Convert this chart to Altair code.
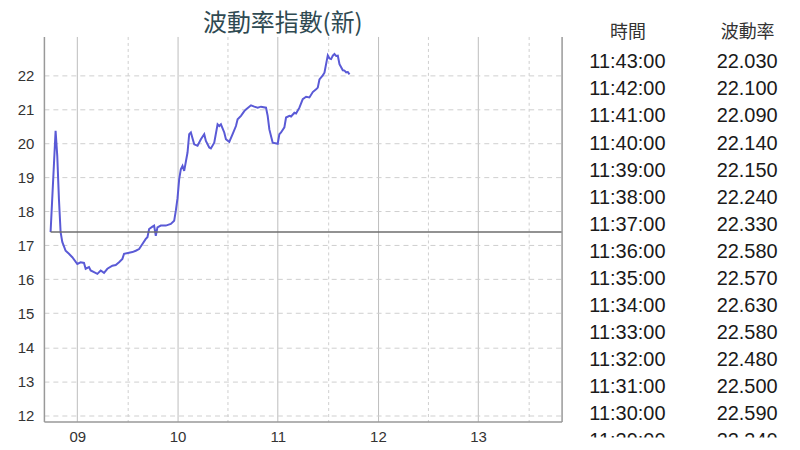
import altair as alt
import pandas as pd

# ---- data ----
early_times = [
    "08:44", "08:47", "08:48", "08:49", "08:50", "08:51", "08:53", "08:55", "08:57",
    "09:00", "09:02", "09:04", "09:05", "09:07", "09:08", "09:10", "09:12", "09:14",
    "09:16", "09:18", "09:21", "09:23", "09:25", "09:27", "09:28", "09:31", "09:33",
    "09:35", "09:37", "09:39", "09:41", "09:42", "09:43", "09:45", "09:46", "09:47",
    "09:48", "09:50", "09:53", "09:56", "09:58", "09:59", "10:00", "10:01", "10:02",
    "10:03", "10:04", "10:06", "10:07", "10:08", "10:10", "10:12", "10:14", "10:16",
    "10:17", "10:19", "10:20", "10:22", "10:24", "10:25", "10:26", "10:28", "10:29",
    "10:31", "10:33", "10:35", "10:36", "10:38", "10:40", "10:41", "10:44", "10:46",
    "10:48", "10:50", "10:53", "10:54", "10:55", "10:57", "11:00", "11:01", "11:02",
    "11:04", "11:05", "11:07", "11:08", "11:10", "11:11", "11:13", "11:15", "11:17",
    "11:19", "11:21", "11:23", "11:24", "11:25", "11:27", "11:28",
]
early_values = [
    17.39, 20.37, 19.63, 18.36, 17.39, 17.10, 16.84, 16.75, 16.65,
    16.45, 16.50, 16.48, 16.31, 16.36, 16.26, 16.21, 16.16, 16.26,
    16.19, 16.31, 16.40, 16.42, 16.50, 16.60, 16.75, 16.78, 16.80,
    16.84, 16.89, 17.04, 17.19, 17.24, 17.48, 17.55, 17.58, 17.28,
    17.53, 17.58, 17.58, 17.63, 17.72, 18.02, 18.38, 18.95, 19.24,
    19.34, 19.19, 19.73, 20.27, 20.32, 19.97, 19.93, 20.12, 20.27,
    20.07, 19.88, 19.85, 20.02, 20.56, 20.51, 20.56, 20.32, 20.12,
    20.04, 20.27, 20.51, 20.71, 20.81, 20.95, 21.00, 21.12, 21.08,
    21.05, 21.08, 21.05, 20.81, 20.41, 20.02, 19.99, 20.27, 20.32,
    20.47, 20.76, 20.81, 20.79, 20.90, 20.88, 21.05, 21.30, 21.37,
    21.35, 21.51, 21.59, 21.64, 21.88, 22.00, 22.08,
]
table_times = [
    "11:43:00", "11:42:00", "11:41:00", "11:40:00", "11:39:00", "11:38:00",
    "11:37:00", "11:36:00", "11:35:00", "11:34:00", "11:33:00", "11:32:00",
    "11:31:00", "11:30:00", "11:29:00",
]
table_values = [
    22.030, 22.100, 22.090, 22.140, 22.150, 22.240,
    22.330, 22.580, 22.570, 22.630, 22.580, 22.480,
    22.500, 22.590, 22.340,
]
prev_close = 17.39
x_end = "13:50"
y_ticks = [12, 13, 14, 15, 16, 17, 18, 19, 20, 21, 22]
col_names = ["時間", "波動率"]
title_text = "波動率指數(新)"

DAY = "2024-01-02T"
times = early_times + [t[:5] for t in reversed(table_times)]
values = early_values + list(reversed(table_values))
line_df = pd.DataFrame({"t": [DAY + t + ":00" for t in times], "v": values})
ref_df = pd.DataFrame({"t": [DAY + times[0] + ":00"], "t2": [DAY + x_end + ":00"], "v": [prev_close]})

rows = []
for i, (tt, vv) in enumerate(zip(table_times, table_values)):
    rows.append({"idx": i, "col": col_names[0], "text": tt})
    rows.append({"idx": i, "col": col_names[1], "text": f"{vv:.3f}"})
table_df = pd.DataFrame(rows)


def dt(h, m):
    return alt.DateTime(year=2024, month=1, date=2, hours=h, minutes=m)


x_vals = [dt(h, m) for h in range(9, 14) for m in (0, 30)]
x_scale = alt.Scale(domain=[dt(8, 40), dt(13, 50)])
y_scale = alt.Scale(domain=[11.815, 23.145], nice=False, zero=False)

x_axis = alt.Axis(
    values=x_vals,
    title=None,
    labelExpr="minutes(datum.value) == 0 ? timeFormat(datum.value, '%H') : ''",
    labelFont="Liberation Sans", labelFontSize=15, labelColor="#333",
    labelPadding=8, ticks=False, grid=True,
    domainColor="#999", domainWidth=1.5,
    gridDash={"condition": {"test": "minutes(datum.value) == 30", "value": [3, 3]}, "value": []},
    gridColor={"condition": {"test": "minutes(datum.value) == 30", "value": "#cfcfcf"}, "value": "#bdbdbd"},
    gridWidth=1,
)
y_axis = alt.Axis(
    values=y_ticks, title=None, ticks=False, grid=True,
    labelFont="Liberation Sans", labelFontSize=15, labelColor="#333", labelPadding=10,
    domainColor="#999", domainWidth=1.5,
    gridDash=[5, 4], gridColor="#cfcfcf", gridWidth=1,
)

line = alt.Chart(line_df).mark_line(color="#5a5ad6", strokeWidth=2).encode(
    x=alt.X("t:T", scale=x_scale, axis=x_axis),
    y=alt.Y("v:Q", scale=y_scale, axis=y_axis),
)
ref = alt.Chart(ref_df).mark_rule(color="#6e6e6e", strokeWidth=1.5).encode(
    x=alt.X("t:T", scale=x_scale),
    x2="t2:T",
    y=alt.Y("v:Q", scale=y_scale,
            axis=alt.Axis(orient="right", labels=False, ticks=False, grid=False,
                          title=None, domainColor="#999", domainWidth=1.5)),
)

main = alt.layer(line, ref).resolve_axis(y="independent").properties(
    width=519, height=386,
    title=alt.TitleParams(title_text, font="Noto Sans CJK TC", fontSize=24,
                          fontWeight="normal", color="#2f4a52", anchor="middle",
                          dx=-20, offset=0),
)

table = alt.Chart(table_df).mark_text(
    font="Liberation Sans", fontSize=20, color="#1a1a1a", baseline="middle", clip=True
).encode(
    x=alt.X("col:N", sort=col_names, scale=alt.Scale(type="point", padding=0.375),
            axis=alt.Axis(orient="top", title=None, domain=False, ticks=False, grid=False,
                          labelFont="Noto Sans CJK TC", labelFontSize=18, labelColor="#333",
                          labelPadding=4, labelBaseline="middle", labelAngle=0)),
    y=alt.Y("idx:Q", scale=alt.Scale(domain=[-0.96, 13.874], reverse=True, nice=False, zero=False),
            axis=None),
    text="text:N",
).properties(width=210, height=402)

chart = alt.hconcat(main, table, spacing=20).properties(
    padding={"left": 9, "top": 4, "right": 0, "bottom": 0}
).configure_view(stroke=None)

chart.save("out.html", embed_options={"renderer": "svg", "actions": False})
